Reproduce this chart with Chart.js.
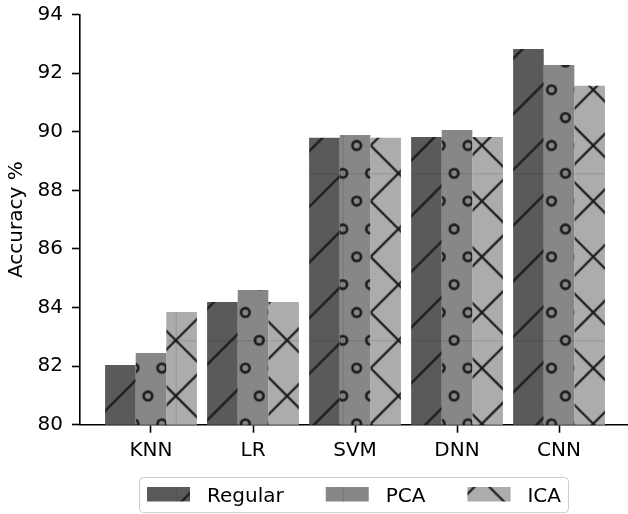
<!DOCTYPE html>
<html>
<head>
<meta charset="utf-8">
<script src="https://cdn.jsdelivr.net/npm/chart.js@4/dist/chart.umd.min.js"></script>
<style>
html,body{margin:0;padding:0;background:#fff;}
canvas{display:block;}
</style>
</head>
<body>
<canvas id="c" width="628" height="514"></canvas>
<script>
// ---- data ----
const categories = ['KNN', 'LR', 'SVM', 'DNN', 'CNN'];
const seriesNames = ['Regular', 'PCA', 'ICA'];
const regular = [82.04, 84.19, 89.80, 89.82, 92.83];
const pca     = [82.45, 84.60, 89.89, 90.06, 92.28];
const ica     = [83.85, 84.19, 89.80, 89.82, 91.57];
const yMin = 80, yMax = 94, yStep = 2;

// ---- hatch patterns (tile anchored like the reference) ----
const FONT = "'DejaVu Sans', sans-serif";
const T = 167;
function makePattern(type, fill) {
  const c = document.createElement('canvas');
  c.width = T; c.height = T;
  const g = c.getContext('2d');
  g.fillStyle = fill; g.fillRect(0, 0, T, T);
  g.fillStyle = 'rgba(0,0,0,0.12)';
  g.fillRect(0, 0, T, 1); g.fillRect(0, 0, 1, T);
  g.strokeStyle = '#1a1a1a';
  const s = T / 3;
  if (type === '/' || type === 'x') {
    g.lineWidth = 2.2;
    for (let k = -1; k <= 7; k++) {
      const C = k * s;
      g.beginPath(); g.moveTo(C + 10, -10); g.lineTo(C - T - 10, T + 10); g.stroke();
    }
  }
  if (type === 'x') {
    g.lineWidth = 2.2;
    for (let k = -4; k <= 4; k++) {
      const C = k * s;
      g.beginPath(); g.moveTo(-10, C - 10); g.lineTo(T + 10, C + T + 10); g.stroke();
    }
  }
  if (type === 'o') {
    const s2 = T / 6;
    g.lineWidth = 2.6;
    for (let i = -1; i <= 7; i++) {
      for (let j = -1; j <= 7; j++) {
        const x = (j + (Math.abs(i) % 2 ? 0.5 : 0)) * s2;
        const y = i * s2;
        g.beginPath(); g.arc(x, y, 4.3, 0, Math.PI * 2); g.stroke();
      }
    }
  }
  const ctx = document.getElementById('c').getContext('2d');
  const p = ctx.createPattern(c, 'repeat');
  p.setTransform(new DOMMatrix([1, 0, 0, 1, 8.7, 6.3]));
  return p;
}
const fills = [
  makePattern('/', '#5a5a5a'),
  makePattern('o', '#878787'),
  makePattern('x', '#acacac')
];
const seriesValues = [regular, pca, ica];

const datasets = seriesNames.map((name, si) => ({
  label: name,
  data: seriesValues[si].map((v, i) => ({ x: i, y: v })),
  backgroundColor: fills[si],
  borderWidth: 0,
  categoryPercentage: 0.9,
  barPercentage: 1.0
}));

// custom legend drawn below the axes, centred on the plot area
const legendPlugin = {
  id: 'mplLegend',
  afterDraw(chart) {
    const ctx = chart.ctx;
    const ca = chart.chartArea;
    ctx.save();
    ctx.font = '20px ' + FONT;
    const sw = 43, sh = 14.5, tpad = 17, gap = 42, pad = 7.5;
    const widths = chart.data.datasets.map(d => ctx.measureText(d.label).width);
    let total = pad * 2;
    widths.forEach((w, i) => { total += sw + tpad + w + (i ? gap : 0); });
    const cx = (ca.left + ca.right) / 2;
    const left = cx - total / 2;
    const top = 477.5, h = 35.2;
    ctx.beginPath();
    if (ctx.roundRect) ctx.roundRect(left, top, total, h, 4); else ctx.rect(left, top, total, h);
    ctx.fillStyle = 'rgba(255,255,255,0.8)';
    ctx.fill();
    ctx.strokeStyle = '#cccccc';
    ctx.lineWidth = 1;
    ctx.stroke();
    let x = left + pad;
    chart.data.datasets.forEach((d, i) => {
      if (i) x += gap;
      ctx.fillStyle = d.backgroundColor;
      ctx.fillRect(x, 487, sw, sh);
      x += sw + tpad;
      ctx.fillStyle = '#000';
      ctx.textBaseline = 'alphabetic';
      ctx.textAlign = 'left';
      ctx.fillText(d.label, x, 501.7);
      x += widths[i];
    });
    ctx.restore();
  }
};

new Chart(document.getElementById('c'), {
  type: 'bar',
  data: { datasets },
  plugins: [legendPlugin],
  options: {
    responsive: false,
    animation: false,
    devicePixelRatio: 1,
    events: [],
    layout: { padding: { top: 14.7, right: 0, left: 0, bottom: 0 } },
    plugins: { legend: { display: false }, tooltip: { enabled: false } },
    scales: {
      x: {
        type: 'linear',
        min: -0.696,
        max: 4.676,
        offset: false,
        afterBuildTicks: (scale) => { scale.ticks = categories.map((c, i) => ({ value: i })); },
        afterFit: (scale) => { scale.height = 89.3; scale.paddingLeft = 0; scale.paddingRight = 0; },
        ticks: {
          callback: (v) => categories[v] ?? '',
          autoSkip: false,
          maxRotation: 0,
          color: '#000',
          padding: 6,
          font: { family: FONT, size: 20 }
        },
        grid: { offset: false, drawOnChartArea: false, drawTicks: true, tickLength: 8, tickColor: '#000', tickWidth: 1.6 },
        border: { display: true, color: '#000', width: 1.6 }
      },
      y: {
        min: yMin,
        max: yMax,
        afterFit: (scale) => { scale.width = 80; scale.paddingTop = 0; scale.paddingBottom = 0; },
        ticks: {
          stepSize: yStep,
          color: '#000',
          padding: 9,
          font: { family: FONT, size: 20 }
        },
        title: {
          display: true,
          text: 'Accuracy %',
          color: '#000',
          padding: { top: 5, bottom: 0 },
          font: { family: FONT, size: 20 }
        },
        grid: { drawOnChartArea: false, drawTicks: true, tickLength: 8, tickColor: '#000', tickWidth: 1.6 },
        border: { display: true, color: '#000', width: 1.6 }
      }
    }
  }
});
</script>
</body>
</html>
